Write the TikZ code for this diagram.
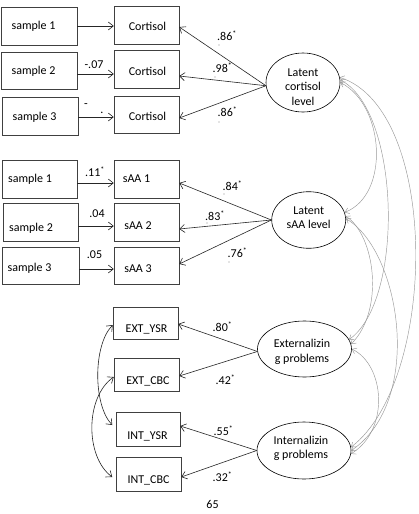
\documentclass[tikz,border=0pt]{standalone}
\usepackage{fontspec}
\setmainfont{Carlito}
\usetikzlibrary{arrows.meta,shapes.geometric}
\begin{document}
\begin{tikzpicture}[x=1pt,y=-1pt,
  every node/.style={font=\fontsize{12}{14.5}\selectfont, inner sep=0pt},
  mbox/.style={draw=black!75, line width=0.5pt, minimum height=38pt},
  lat/.style={draw=black, line width=0.6pt, ellipse, inner sep=0pt},
  reg/.style={draw=black!85, line width=0.6pt, -{Straight Barb[length=5pt,width=8pt]}},
  cov/.style={draw=black!85, line width=0.6pt, {Straight Barb[length=5pt,width=8pt]}-{Straight Barb[length=5pt,width=8pt]}},
  corr/.style={draw=black!40, line width=0.45pt, {Straight Barb[length=4pt,width=6pt]}-{Straight Barb[length=4pt,width=6pt]}},
  lbl/.style={font=\fontsize{12}{14}\selectfont},
  dotmark/.style={fill=black!45}]
\path[fill=white] (0,0) rectangle (418,514);
\useasboundingbox (0,0) rectangle (418,514);

% ---- cortisol block
\node[mbox,minimum width=76pt,label={[xshift=-5.5pt]center:sample 1}] (s1) at (39,26) {};
\node[mbox,minimum width=76pt,minimum height=37pt,label={[xshift=-5.5pt,yshift=-0.5pt]center:sample 2}] (s2) at (39,70.5) {};
\node[mbox,minimum width=76pt,label={[xshift=-5.5pt,yshift=-1pt]center:sample 3}] (s3) at (40,116) {};
\node[mbox,minimum width=65pt,label={[xshift=1pt,yshift=-1pt]center:Cortisol}] (c1) at (146.5,25) {};
\node[mbox,minimum width=65pt,label={[xshift=1pt,yshift=-2pt]center:Cortisol}] (c2) at (146.5,69) {};
\node[mbox,minimum width=65pt,minimum height=37pt,label={[xshift=1pt,yshift=-1.5pt]center:Cortisol}] (c3) at (146.5,114.5) {};

% ---- sAA block
\node[mbox,minimum width=75pt,label={[xshift=-9.5pt]center:sample 1}] (a1) at (39.5,179) {};
\node[mbox,minimum width=75pt,label={[xshift=-9.5pt,yshift=-6pt]center:sample 2}] (a2) at (40.5,222) {};
\node[mbox,minimum width=77pt,minimum height=37pt,label={[xshift=-11pt,yshift=-2.5pt]center:sample 3}] (a3) at (40.5,265.5) {};
\node[mbox,minimum width=65pt,label={[xshift=-10pt]center:sAA 1}] (b1) at (146.5,179) {};
\node[mbox,minimum width=65pt,label={[xshift=-8.5pt,yshift=-4pt]center:sAA 2}] (b2) at (146.5,222) {};
\node[mbox,minimum width=65pt,minimum height=37pt,label={[xshift=-8.5pt,yshift=-3.5pt]center:sAA 3}] (b3) at (146.5,265.5) {};

% ---- problem indicators
\node[mbox,minimum width=65pt,minimum height=32pt,label={[xshift=1pt,yshift=-6pt]center:EXT\_YSR}] (ey) at (145.5,323) {};
\node[mbox,minimum width=65pt,minimum height=33pt,label={[xshift=1.5pt,yshift=-6.5pt]center:EXT\_CBC}] (ec) at (146.5,374.5) {};
\node[mbox,minimum width=64pt,minimum height=34pt,label={[xshift=-0.5pt,yshift=-7pt]center:INT\_YSR}] (iy) at (148,429) {};
\node[mbox,minimum width=65pt,minimum height=34pt,label={[yshift=-6pt]center:INT\_CBC}] (ic) at (148.5,474) {};

% ---- latent variables
\node[lat,minimum width=74pt,minimum height=59pt,label={[yshift=-4.5pt,align=center,font=\fontsize{12}{14.5}\selectfont]center:Latent\\cortisol\\level}] (L1) at (303,82.5) {};
\node[lat,minimum width=74pt,minimum height=56.6pt,label={[yshift=2.5pt,align=center,font=\fontsize{12}{14}\selectfont]center:Latent\\sAA level}] (L2) at (308.7,220) {};
\node[lat,minimum width=94pt,minimum height=56pt,label={[xshift=-2.5pt,yshift=-3pt,align=center,font=\fontsize{12}{15.5}\selectfont]center:Externalizin\\g problems}] (L3) at (304.5,349) {};
\node[lat,minimum width=94pt,minimum height=57pt,label={[xshift=-3pt,yshift=2.5pt,align=center,font=\fontsize{12}{14}\selectfont]center:Internalizin\\g problems}] (L4) at (304,450.5) {};

% ---- sample -> measurement arrows
\draw[reg] (s1.east) -- (s1.east -| c1.west);
\draw[reg] ([yshift=-3.5pt]s2.east) -- ([yshift=-3.5pt]s2.east -| c2.west);
\draw[reg] ([yshift=-1pt]s3.east) -- ([yshift=-1pt]s3.east -| c3.west);
\draw[reg] ([yshift=-4pt]a1.east) -- ([yshift=-4pt]a1.east -| b1.west);
\draw[reg] ([yshift=-4pt]a2.east) -- ([yshift=-4pt]a2.east -| b2.west);
\draw[reg] ([yshift=-3.5pt]a3.east) -- ([yshift=-3.5pt]a3.east -| b3.west);

% ---- loadings
\draw[reg] (L1.185) -- ([yshift=-2pt]c1.east);
\draw[reg] (L1.185) -- ([yshift=-7pt]c2.east);
\draw[reg] (L1.185) -- ([yshift=-3.5pt]c3.east);
\draw[reg] (L2.west) -- ([yshift=-4pt]b1.east);
\draw[reg] (L2.west) -- ([yshift=-7pt]b2.east);
\draw[reg] (L2.west) -- ([yshift=1.5pt]b3.east);
\draw[reg] (L3.183) -- ([yshift=-1pt]ey.east);
\draw[reg] (L3.183) -- ([yshift=-1.5pt]ec.east);
\draw[reg] (L4.west) -- ([yshift=3pt]iy.east);
\draw[reg] (L4.west) -- ([yshift=-3pt]ic.east);

% ---- residual covariances (left)
\draw[cov] ([yshift=-2pt]ey.west) .. controls (93,345) and (93,405) .. ([xshift=-3.5pt,yshift=4pt]iy.west);
\draw[cov] ([yshift=-2.5pt]ec.west) .. controls (85,397) and (85,457) .. ([xshift=-3.5pt,yshift=-3pt]ic.west);

% ---- latent correlations (right)
\draw[corr] (L1.0) .. controls (385,105) and (390,195) .. (L2.12);
\draw[corr] (L1.4) .. controls (400,110) and (405,300) .. (L3.12);
\draw[corr] (L1.8) .. controls (440,110) and (438,380) .. (L4.4);
\draw[corr] (L2.6) .. controls (375,235) and (385,310) .. (L3.6);
\draw[corr] (L2.2) .. controls (400,250) and (425,400) .. (L4.0);
\draw[corr] (L3.0) .. controls (385,365) and (390,430) .. (L4.-4);

% ---- coefficient labels
\node[lbl] (k1) at (94,65) {-.07};
\node[lbl] (k2) at (86,106) {-};
\node[lbl] (k3) at (102,113) {.};
\node[lbl] (k4) at (95,171.5) {.11\textsuperscript{*}};
\node[lbl] (k5) at (97,214) {.04};
\node[lbl] (k6) at (94.5,255) {.05};

\node[lbl] (r1) at (227,35.5) {.86\textsuperscript{*}};
\node[lbl] (r2) at (222.5,67.5) {.98\textsuperscript{*}};
\node[lbl] (r3) at (227.5,111.5) {.86\textsuperscript{*}};
\node[lbl] (r4) at (232.5,185.5) {.84\textsuperscript{*}};
\node[lbl] (r5) at (215,215.5) {.83\textsuperscript{*}};
\node[lbl] (r6) at (237.5,252.5) {.76\textsuperscript{*}};
\node[lbl] (r7) at (222.5,326.5) {.80\textsuperscript{*}};
\node[lbl] (r8) at (225.5,379.5) {.42\textsuperscript{*}};
\node[lbl] (r9) at (223.5,430.5) {.55\textsuperscript{*}};
\node[lbl] (r10) at (222.5,476.5) {.32\textsuperscript{*}};

\fill[dotmark] (219,45) circle (0.6);
\fill[dotmark] (215,77) circle (0.6);
\fill[dotmark] (219,122) circle (0.6);
\fill[dotmark] (224,194) circle (0.6);
\fill[dotmark] (207,223) circle (0.6);
\fill[dotmark] (229,262) circle (0.6);

\node[lbl] (pg) at (212.5,504) {65};
\end{tikzpicture}
\end{document}
